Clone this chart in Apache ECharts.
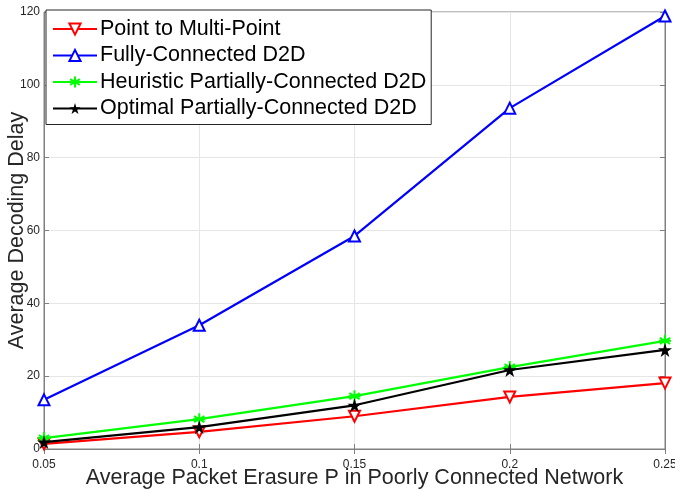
<!DOCTYPE html>
<html><head><meta charset="utf-8">
<script src="https://cdn.jsdelivr.net/npm/echarts@6/dist/echarts.min.js"></script>
<style>html,body{margin:0;padding:0;background:#fff}#c{width:675px;height:491px}</style>
</head><body><div id="c"></div>
<script>
const xValues = [0.05, 0.1, 0.15, 0.2, 0.25];
const pointToMulti = [1.4, 4.7, 9.0, 14.3, 18.1];
const fullyD2D = [13.5, 34.0, 58.5, 93.6, 118.9];
const heuristicD2D = [3.0, 8.2, 14.5, 22.5, 29.7];
const optimalD2D = [1.9, 6.0, 12.0, 21.7, 27.2];
const seriesNames = ['Point to Multi-Point','Fully-Connected D2D','Heuristic Partially-Connected D2D','Optimal Partially-Connected D2D'];
const yTicks = [0,20,40,60,80,100,120];

const star = 'path://M0,-10L2.23,-3.07L9.51,-3.09L3.61,1.17L5.88,8.09L0,3.8L-5.88,8.09L-3.61,1.17L-9.51,-3.09L-2.23,-3.07Z';
const asterisk = 'path://M0,-10L0,10M-8.66,-5L8.66,5M-8.66,5L8.66,-5M-10,0L10,0';
function pairs(arr){return xValues.map((x,i)=>[x,arr[i]]);}
const axisCol = '#808080';
const chart = echarts.init(document.getElementById('c'));
chart.setOption({
  animation:false,
  backgroundColor:'#fff',
  textStyle:{fontFamily:'Liberation Sans, Arial, sans-serif'},
  grid:{left:44,right:10,top:12,bottom:42,outerBoundsMode:'none',containLabel:false,show:true,borderColor:axisCol,borderWidth:1},
  legend:{
    orient:'vertical',left:46,top:10,
    backgroundColor:'#fff',borderColor:'#262626',borderWidth:1,
    padding:[8,5,5,6],itemGap:4.5,itemWidth:44,itemHeight:14,
    textStyle:{fontSize:21.5,lineHeight:22,color:'#000',fontFamily:'Liberation Sans, Arial, sans-serif',padding:[0,0,0,-2]},
    data:seriesNames
  },
  xAxis:[{
    type:'value',min:0.05,max:0.25,interval:0.05,
    name:'Average Packet Erasure P in Poorly Connected Network',
    nameLocation:'middle',nameGap:18,nameMoveOverlap:false,
    nameTextStyle:{fontSize:21.5,color:'#262626'},
    axisLine:{onZero:false,lineStyle:{color:axisCol}},
    axisTick:{inside:true,length:5,lineStyle:{color:axisCol}},
    axisLabel:{fontSize:12,color:'#262626',margin:10,formatter:v=>String(+v.toFixed(2))},
    splitLine:{show:true,lineStyle:{color:'#e6e6e6'}}
  },{
    type:'value',position:'top',min:0.05,max:0.25,interval:0.05,
    axisLine:{show:true,lineStyle:{color:axisCol}},
    axisTick:{inside:true,length:5,lineStyle:{color:axisCol}},
    axisLabel:{show:false},splitLine:{show:false}
  }],
  yAxis:[{
    type:'value',min:yTicks[0],max:yTicks[yTicks.length-1],interval:20,
    name:'Average Decoding Delay',nameLocation:'middle',nameGap:16,nameMoveOverlap:false,
    nameTextStyle:{fontSize:21.5,color:'#262626'},
    axisLine:{show:true,onZero:false,lineStyle:{color:axisCol}},
    axisTick:{show:true,inside:true,length:5,lineStyle:{color:axisCol}},
    axisLabel:{fontSize:12,color:'#262626',margin:4},
    splitLine:{show:true,lineStyle:{color:'#e6e6e6'}}
  },{
    type:'value',position:'right',min:0,max:120,interval:20,
    axisLine:{show:true,lineStyle:{color:axisCol}},
    axisTick:{show:true,inside:true,length:5,lineStyle:{color:axisCol}},
    axisLabel:{show:false},splitLine:{show:false}
  }],
  series:[
    {name:seriesNames[0],type:'line',data:pairs(pointToMulti),symbol:'emptyTriangle',symbolRotate:180,symbolSize:11,
     lineStyle:{color:'#ff0000',width:2.2},itemStyle:{color:'#ff0000',borderWidth:1.5},z:4},
    {name:seriesNames[1],type:'line',data:pairs(fullyD2D),symbol:'emptyTriangle',symbolSize:11,
     lineStyle:{color:'#0000ff',width:2.2},itemStyle:{color:'#0000ff',borderWidth:1.5},z:3},
    {name:seriesNames[2],type:'line',data:pairs(heuristicD2D),symbol:asterisk,symbolSize:12,
     lineStyle:{color:'#00ff00',width:2.2},itemStyle:{color:'#00ff00',borderColor:'#00ff00',borderWidth:2},z:5},
    {name:seriesNames[3],type:'line',data:pairs(optimalD2D),symbol:star,symbolSize:14,
     lineStyle:{color:'#000000',width:2.2},itemStyle:{color:'#000000'},z:6}
  ]
});
</script></body></html>
